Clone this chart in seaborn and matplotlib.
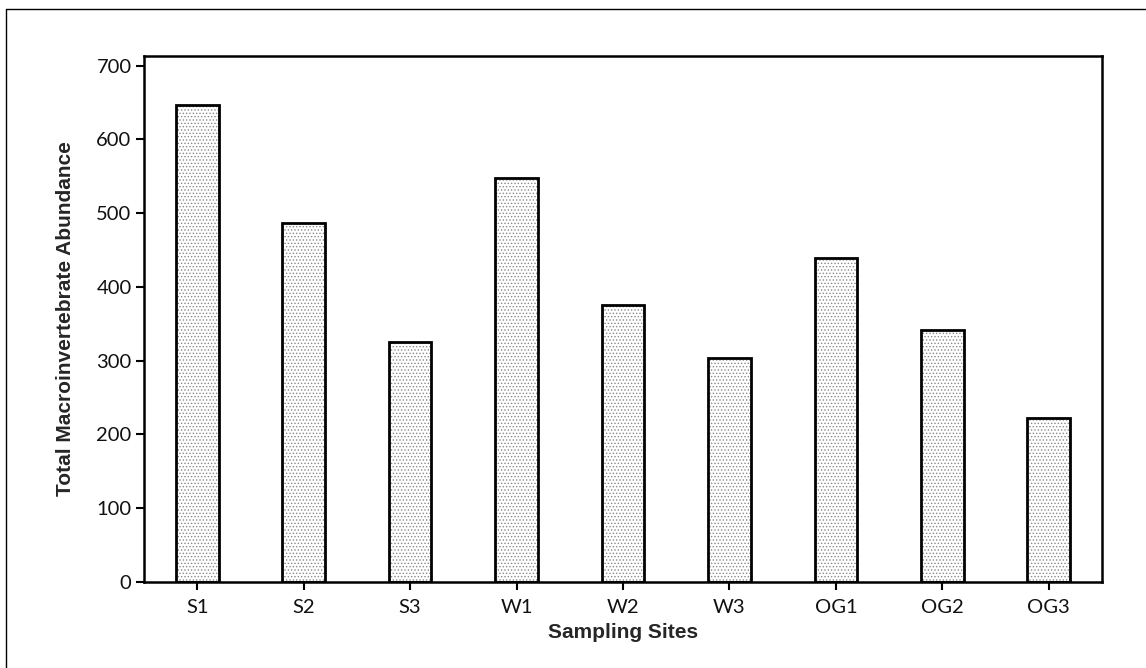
import matplotlib
matplotlib.use("Agg")
import matplotlib.pyplot as plt
import seaborn as sns
import pandas as pd
from matplotlib.lines import Line2D

sites = ["S1", "S2", "S3", "W1", "W2", "W3", "OG1", "OG2", "OG3"]
abundance = [646, 487, 326, 547, 376, 304, 439, 342, 222]
y_ticks = [0, 100, 200, 300, 400, 500, 600, 700]

df = pd.DataFrame({"site": sites, "abundance": abundance})

sns.set_theme(style="white")
plt.rcParams['font.family'] = ['Lato', 'DejaVu Sans']
plt.rcParams['hatch.linewidth'] = 0.6

fig = plt.figure(figsize=(11.46, 6.68), dpi=100)
ax = fig.add_axes([0.1257, 0.1287, 0.9616 - 0.1257, 0.9162 - 0.1287])

# hatched fill
sns.barplot(data=df, x="site", y="abundance", order=sites, ax=ax,
            color="white", width=0.4, linewidth=0, edgecolor="#8a8a8a",
            hatch=".....", errorbar=None)
# outline
sns.barplot(data=df, x="site", y="abundance", order=sites, ax=ax,
            fill=False, width=0.4, linewidth=2, edgecolor="black",
            errorbar=None)

ax.set_xlim(-0.5, 8.5)
ax.set_ylim(0, 713)
ax.set_yticks(y_ticks)
ax.set_yticklabels([str(v) for v in y_ticks])
for s in ax.spines.values():
    s.set_visible(True)
    s.set_color("black")
    s.set_linewidth(1.8)
ax.tick_params(axis="both", which="major", direction="out", length=6, width=1.5,
               color="black", labelsize=14.5, labelcolor="#111111", pad=3)
ax.tick_params(axis="x", bottom=True, pad=6)
ax.tick_params(axis="y", left=True)
ax.set_xlabel("Sampling Sites", fontsize=15, fontweight="bold", labelpad=5,
              family=["Liberation Sans", "DejaVu Sans"])
ax.set_ylabel("Total Macroinvertebrate Abundance", fontsize=15, fontweight="bold",
              labelpad=15, family=["Liberation Sans", "DejaVu Sans"])

# outer frame (top and left)
fig.add_artist(Line2D([6/1146, 1.0], [1 - 9/668, 1 - 9/668], color="black", lw=1, transform=fig.transFigure))
fig.add_artist(Line2D([6/1146, 6/1146], [0, 1 - 9/668], color="black", lw=1, transform=fig.transFigure))

fig.savefig("out.png", dpi=100, facecolor="white")
